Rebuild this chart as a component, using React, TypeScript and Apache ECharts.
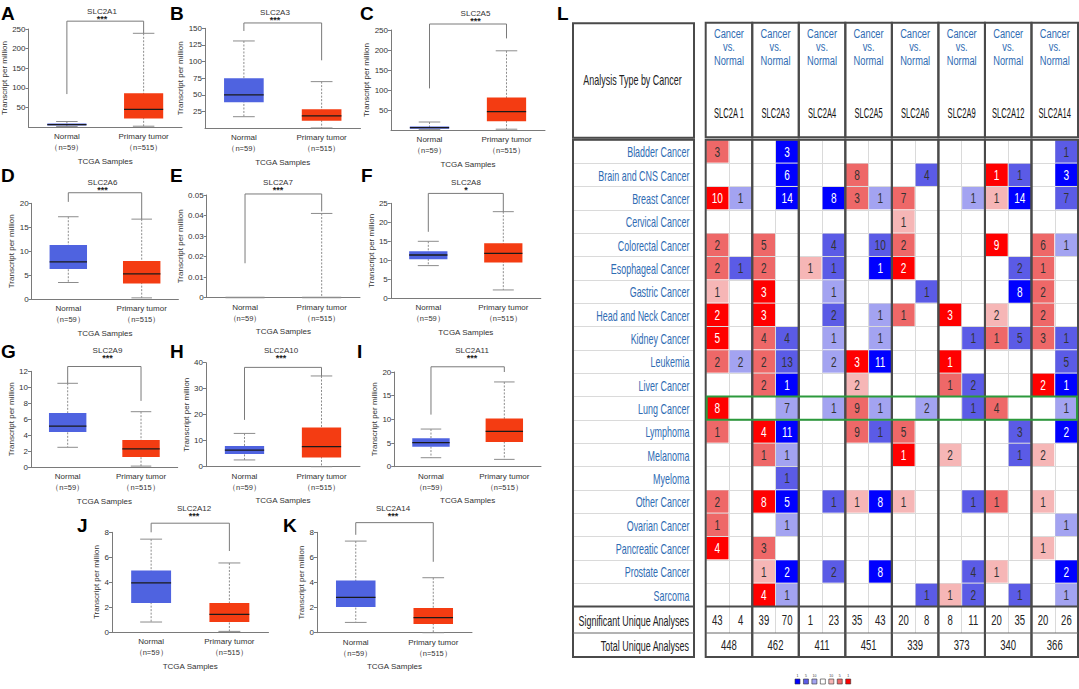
import React, { useEffect, useRef } from 'react';
import * as echarts from 'echarts';

const FONT = "'Liberation Sans', Arial, Helvetica, sans-serif";

// ---------- Boxplot panels (A-K) ----------
const groups = ['Normal', 'Primary tumor'];
const groupN = ['n=59', 'n=515'];
const panelLetters = ['A', 'B', 'C', 'D', 'E', 'F', 'G', 'H', 'I', 'J', 'K'];
const panelGenes = ['SLC2A1', 'SLC2A3', 'SLC2A5', 'SLC2A6', 'SLC2A7', 'SLC2A8', 'SLC2A9', 'SLC2A10', 'SLC2A11', 'SLC2A12', 'SLC2A14'];
const panelSig = ['***', '***', '***', '***', '***', '*', '***', '***', '***', '***', '***'];
// [min, Q1, median, Q3, max]
const normalStats = [
  [1, 4, 6, 9, 14],
  [17.4, 39, 50, 75, 131],
  [1, 3, 6, 9, 20],
  [3.5, 6.3, 7.8, 11.3, 17.2],
  [0, 0, 0, 0, 0],
  [8.6, 10.3, 11.4, 12.4, 15.0],
  [2.5, 4.4, 5.15, 6.8, 10.5],
  [2.6, 4.9, 6.4, 8.0, 12.8],
  [1.9, 4.2, 5.1, 6.0, 7.95],
  [0.8, 2.33, 3.94, 4.93, 7.45],
  [0.82, 2.05, 2.82, 4.15, 7.3],
];
const tumorStats = [
  [2, 22, 45, 86, 239],
  [0.5, 11.4, 18.5, 28.5, 70],
  [2, 22, 46, 81, 198],
  [0.3, 3.3, 5.3, 8.0, 16.7],
  [0, 0, 0, 0, 0.041],
  [2.2, 9.4, 11.8, 14.5, 22.8],
  [0.15, 1.3, 2.3, 3.4, 6.95],
  [0, 3.5, 7.7, 15.1, 34.9],
  [1.55, 5.2, 7.45, 10.2, 17.9],
  [0.05, 0.8, 1.42, 2.33, 5.54],
  [0, 0.69, 1.2, 1.96, 4.38],
];
// significance bracket: [left arm end, top, right arm end]
const brackets = [
  [84, 270, 239],
  [146, 158, 102],
  [104, 265, 229],
  [20.3, 22.2, 16.7],
  [0.0167, 0.0505, 0.042],
  [17.5, 27.6, 22.8],
  [10.5, 12.6, 8.3],
  [18, 38.2, 34.9],
  [11, 21.1, 20],
  [8.0, 8.73, 6.5],
  [7.8, 8.77, 5.65],
];
const yMax = [250, 150, 250, 20, 0.05, 25, 12, 40, 20, 8, 8];
const yStep = [50, 25, 50, 5, 0.01, 5, 2, 10, 5, 2, 2];
const showZero = [false, false, false, true, true, true, true, true, true, true, true];

// ---------- Table (L) ----------
const tableGenes = ['SLC2A 1', 'SLC2A3', 'SLC2A4', 'SLC2A5', 'SLC2A6', 'SLC2A9', 'SLC2A12', 'SLC2A14'];
const subCols = tableGenes.flatMap((g) => [g + ' up', g + ' down']);
const cancers = ['Bladder Cancer', 'Brain and CNS Cancer', 'Breast Cancer', 'Cervical Cancer', 'Colorectal Cancer', 'Esophageal Cancer', 'Gastric Cancer', 'Head and Neck Cancer', 'Kidney Cancer', 'Leukemia', 'Liver Cancer', 'Lung Cancer', 'Lymphoma', 'Melanoma', 'Myeloma', 'Other Cancer', 'Ovarian Cancer', 'Pancreatic Cancer', 'Prostate Cancer', 'Sarcoma'];
const headerText = 'Cancer\nvs.\nNormal';
const leftHeader = 'Analysis Type by Cancer';
const summaryLabels = ['Significant Unique Analyses', 'Total Unique Analyses'];
// [cancerIdx, geneIdx, count, rank(1/5/10 %)]
const overCells = [
  [0, 0, 3, 5],
  [1, 3, 8, 5], [1, 6, 1, 1],
  [2, 0, 10, 1], [2, 3, 3, 5], [2, 4, 7, 5], [2, 6, 1, 10],
  [3, 4, 1, 10],
  [4, 0, 2, 5], [4, 1, 5, 5], [4, 4, 2, 5], [4, 6, 9, 1], [4, 7, 6, 5],
  [5, 0, 2, 5], [5, 1, 2, 5], [5, 2, 1, 10], [5, 4, 2, 1], [5, 7, 1, 5],
  [6, 0, 1, 10], [6, 1, 3, 1], [6, 7, 2, 5],
  [7, 0, 2, 1], [7, 1, 3, 1], [7, 4, 1, 5], [7, 5, 3, 1], [7, 6, 2, 10], [7, 7, 2, 5],
  [8, 0, 5, 1], [8, 1, 4, 5], [8, 6, 1, 5], [8, 7, 3, 5],
  [9, 0, 2, 5], [9, 1, 2, 5], [9, 3, 3, 1], [9, 5, 1, 1],
  [10, 1, 2, 5], [10, 3, 2, 10], [10, 5, 1, 5], [10, 7, 2, 1],
  [11, 0, 8, 1], [11, 3, 9, 5], [11, 6, 4, 5],
  [12, 0, 1, 5], [12, 1, 4, 1], [12, 3, 9, 5], [12, 4, 5, 5],
  [13, 1, 1, 5], [13, 4, 1, 1], [13, 5, 2, 10], [13, 7, 2, 10],
  [15, 0, 2, 5], [15, 1, 8, 1], [15, 3, 1, 10], [15, 4, 1, 10], [15, 6, 1, 5], [15, 7, 1, 10],
  [16, 0, 1, 5],
  [17, 0, 4, 1], [17, 1, 3, 5], [17, 7, 1, 10],
  [18, 1, 1, 10], [18, 6, 1, 10],
  [19, 1, 4, 1], [19, 5, 1, 10],
];
const underCells = [
  [0, 1, 3, 1], [0, 7, 1, 5],
  [1, 1, 6, 1], [1, 4, 4, 5], [1, 6, 1, 5], [1, 7, 3, 1],
  [2, 0, 1, 10], [2, 1, 14, 1], [2, 2, 8, 1], [2, 3, 1, 10], [2, 5, 1, 10], [2, 6, 14, 1], [2, 7, 7, 5],
  [4, 2, 4, 5], [4, 3, 10, 5], [4, 7, 1, 10],
  [5, 0, 1, 5], [5, 2, 1, 5], [5, 3, 1, 1], [5, 6, 2, 5],
  [6, 2, 1, 10], [6, 4, 1, 5], [6, 6, 8, 1],
  [7, 2, 2, 5], [7, 3, 1, 10],
  [8, 1, 4, 5], [8, 2, 1, 10], [8, 3, 1, 10], [8, 5, 1, 5], [8, 6, 5, 5], [8, 7, 1, 5],
  [9, 0, 2, 10], [9, 1, 13, 5], [9, 2, 2, 10], [9, 3, 11, 1], [9, 7, 5, 5],
  [10, 1, 1, 1], [10, 5, 2, 5], [10, 7, 1, 1],
  [11, 1, 7, 10], [11, 2, 1, 10], [11, 3, 1, 10], [11, 4, 2, 10], [11, 5, 1, 5], [11, 7, 1, 10],
  [12, 1, 11, 1], [12, 3, 1, 5], [12, 6, 3, 5], [12, 7, 2, 1],
  [13, 1, 1, 10], [13, 6, 1, 5],
  [14, 1, 1, 5],
  [15, 1, 5, 1], [15, 2, 1, 5], [15, 3, 8, 1], [15, 5, 1, 5],
  [16, 1, 1, 10], [16, 7, 1, 10],
  [18, 1, 2, 1], [18, 2, 2, 5], [18, 3, 8, 1], [18, 5, 4, 5], [18, 7, 2, 1],
  [19, 1, 1, 10], [19, 4, 1, 5], [19, 5, 2, 5], [19, 6, 1, 5], [19, 7, 1, 10],
];
const significantCounts = [[43, 4], [39, 70], [1, 23], [35, 43], [20, 8], [8, 11], [20, 35], [20, 26]];
const totalCounts = [448, 462, 411, 451, 339, 373, 340, 366];
const highlightCancer = 'Lung Cancer';
const legendRanks = ['1', '5', '10', '', '10', '5', '1'];

// ---------- styles & layout ----------
const NORMAL_COLOR = '#4f63e0';
const TUMOR_COLOR = '#f43c12';
const OVER_COLORS: Record<number, string> = { 1: '#ff0000', 5: '#ee6868', 10: '#f6b6b6' };
const UNDER_COLORS: Record<number, string> = { 1: '#0000ff', 5: '#5b5be6', 10: '#a3a3f1' };
const LABEL_BLUE = '#2f6cb3';
const NARROW_SCALE = 0.64;
const TABLE_FS = 14;

// [left, top(y max), right, bottom(axis)]
const panelBoxes = [
  [28.5, 29, 182, 127],
  [205, 28.3, 360.5, 128.3],
  [391, 30, 545, 130],
  [31.6, 203.3, 178.4, 299.3],
  [206.7, 195, 360, 297.5],
  [390.8, 203.3, 540.8, 298.3],
  [31, 371.3, 177.7, 467.3],
  [206, 362.7, 360, 466.7],
  [394.3, 372, 541, 466.7],
  [112, 532.3, 268.5, 632],
  [317, 532.3, 472, 632.7],
];
const letterPos = [[1, 4], [170, 4], [360, 4], [1, 166], [170, 166], [361, 166], [1, 342], [170, 342], [357, 342], [77, 516], [283, 516]];
const titlePos = [[102, 11], [275, 12.7], [475.5, 13.7], [102.5, 182.5], [278, 182.5], [466, 182], [107.5, 350], [281, 350], [472, 350.7], [194, 508.3], [393, 508.3]];
const yNameGap = [14, 11, 11, 14, 15, 10, 12, 12, 13, 10, 10];

const T = {
  left: 705.7, colW: 46.54, headTop: 22.7, headBot: 137.3, bodyTop: 139.8, rowH: 23.335,
  sumTop: 606.5, sumMid: 633, bottom: 657, boxL: 573, boxR: 694,
};

function boxRender(params: any, api: any) {
  const xi = api.value(0);
  const pts = [1, 2, 3, 4, 5].map((d) => api.coord([xi, api.value(d)]));
  const band = api.size([1, 0])[0];
  const cx = pts[0][0];
  const bw = band * 0.51;
  const cw = band * 0.28;
  const color = xi === 0 ? NORMAL_COLOR : TUMOR_COLOR;
  const yMin = pts[0][1], yQ1 = pts[1][1], yMed = pts[2][1], yQ3 = pts[3][1], yMx = pts[4][1];
  return {
    type: 'group',
    children: [
      { type: 'line', shape: { x1: cx, y1: yMx, x2: cx, y2: yMin }, style: { stroke: '#8c8c8c', lineWidth: 1, lineDash: [2, 1.5] } },
      { type: 'line', shape: { x1: cx - cw / 2, y1: yMx, x2: cx + cw / 2, y2: yMx }, style: { stroke: '#8c8c8c', lineWidth: 1 } },
      { type: 'line', shape: { x1: cx - cw / 2, y1: yMin, x2: cx + cw / 2, y2: yMin }, style: { stroke: '#8c8c8c', lineWidth: 1 } },
      { type: 'rect', shape: { x: cx - bw / 2, y: yQ3, width: bw, height: Math.max(yQ1 - yQ3, 0) }, style: { fill: color } },
      { type: 'line', shape: { x1: cx - bw / 2, y1: yMed, x2: cx + bw / 2, y2: yMed }, style: { stroke: yQ1 - yQ3 > 0.5 ? '#1a1a1a' : '#8c8c8c', lineWidth: 1.3 } },
    ],
  };
}

function cellRender(params: any, api: any) {
  const x = api.value(0), y = api.value(1);
  const cnt = api.value(2), rank = api.value(3), dir = api.value(4);
  const c = api.coord([x, y]);
  const s = api.size([1, 1]);
  const fill = dir > 0 ? OVER_COLORS[rank] : UNDER_COLORS[rank];
  return {
    type: 'group',
    children: [
      { type: 'rect', shape: { x: c[0] - s[0] / 2 + 0.5, y: c[1] - s[1] / 2 + 0.5, width: s[0] - 1, height: s[1] - 1 }, style: { fill } },
      { type: 'text', x: c[0], y: c[1] + 0.5, scaleX: 0.72, style: { text: String(cnt), align: 'center', verticalAlign: 'middle', fill: rank === 1 ? '#ffffff' : '#333333', fontSize: TABLE_FS, fontFamily: FONT } },
    ],
  };
}

function textRender(params: any, api: any) {
  const c = api.coord([api.value(0), api.value(1)]);
  return { type: 'text', x: c[0], y: c[1] + 0.5, scaleX: 0.68, style: { text: String(api.value(2)), align: 'center', verticalAlign: 'middle', fill: '#222', fontSize: TABLE_FS, fontFamily: FONT } };
}

function rowLabelRender(params: any, api: any) {
  const c = api.coord([api.value(0), api.value(1)]);
  return { type: 'text', x: c[0], y: c[1] + 0.5, scaleX: NARROW_SCALE, style: { text: cancers[params.dataIndex], align: 'right', verticalAlign: 'middle', fill: LABEL_BLUE, fontSize: TABLE_FS, fontFamily: FONT } };
}

function buildOption() {
  const grid: any[] = [];
  const xAxis: any[] = [];
  const yAxis: any[] = [];
  const series: any[] = [];
  const graphic: any[] = [];

  panelBoxes.forEach((b, i) => {
    grid.push({ left: b[0], top: b[1], width: b[2] - b[0], height: b[3] - b[1], containLabel: false, outerBoundsMode: 'none' });
    xAxis.push({
      gridIndex: i, type: 'category', data: groups, boundaryGap: true,
      axisLine: { lineStyle: { color: '#7a7a7a', width: 1 } }, axisTick: { show: false },
      axisLabel: {
        interval: 0, margin: 4, fontSize: 8, color: '#333', fontFamily: FONT, lineHeight: 11,
        formatter: (v: string, idx: number) => `${v}\n{n|（${groupN[idx]}）}`,
        rich: { n: { fontSize: 7.5, color: '#333', lineHeight: 11 } },
      },
      name: 'TCGA Samples', nameLocation: 'middle', nameGap: 30,
      nameTextStyle: { fontSize: 8, color: '#333', fontFamily: FONT },
    });
    yAxis.push({
      gridIndex: i, type: 'value', min: 0, max: yMax[i], interval: yStep[i],
      axisLine: { show: true, lineStyle: { color: '#7a7a7a', width: 1 } },
      axisTick: { show: true, length: 3, lineStyle: { color: '#7a7a7a' } },
      splitLine: { show: false },
      axisLabel: { fontSize: 8, color: '#333', margin: 3, fontFamily: FONT, showMinLabel: showZero[i] },
      name: 'Transcript per million', nameLocation: 'middle', nameGap: yNameGap[i],
      nameTextStyle: { fontSize: 8, color: '#333', fontFamily: FONT },
    });
    series.push({
      type: 'custom', xAxisIndex: i, yAxisIndex: i, renderItem: boxRender, clip: false, silent: true,
      data: [[0, ...normalStats[i]], [1, ...tumorStats[i]]],
      encode: { x: 0, y: [1, 2, 3, 4, 5] },
    });
    const br = brackets[i];
    series.push({
      type: 'line', xAxisIndex: i, yAxisIndex: i, symbol: 'none', clip: false, silent: true,
      lineStyle: { color: '#7a7a7a', width: 1 },
      data: [[0, br[0]], [0, br[1]], [1, br[1]], [1, br[2]]],
    });
    graphic.push({ type: 'text', z: 100, x: letterPos[i][0], y: letterPos[i][1], style: { text: panelLetters[i], fill: '#000', font: `bold 19px ${FONT}` } });
    graphic.push({ type: 'text', z: 100, x: titlePos[i][0], y: titlePos[i][1], style: { text: panelGenes[i], fill: '#333', font: `8px ${FONT}`, align: 'center', verticalAlign: 'middle' } });
    graphic.push({ type: 'text', z: 100, x: titlePos[i][0], y: titlePos[i][1] + 7.5, style: { text: panelSig[i], fill: '#222', font: `bold 9px ${FONT}`, align: 'center', verticalAlign: 'middle' } });
  });

  // ---- table body grid
  const tbW = T.colW * 8;
  const tbH = T.rowH * cancers.length;
  const gBody = grid.length;
  grid.push({ left: T.left, top: T.bodyTop, width: tbW, height: tbH, outerBoundsMode: 'none' });
  const xSub = xAxis.length;
  xAxis.push({ gridIndex: gBody, type: 'category', data: subCols, axisLine: { show: false }, axisTick: { show: false }, axisLabel: { show: false }, splitLine: { show: true, interval: 0, lineStyle: { color: '#dadada' } } });
  const yBody = yAxis.length;
  yAxis.push({ gridIndex: gBody, type: 'category', data: cancers, inverse: true, axisLine: { show: false }, axisTick: { show: false }, axisLabel: { show: false }, splitLine: { show: true, interval: 0, lineStyle: { color: '#dadada' } } });
  series.push({
    type: 'custom', xAxisIndex: xSub, yAxisIndex: yBody, renderItem: cellRender, silent: true,
    data: [
      ...overCells.map((c) => [c[1] * 2, c[0], c[2], c[3], 1]),
      ...underCells.map((c) => [c[1] * 2 + 1, c[0], c[2], c[3], -1]),
    ],
    encode: { x: 0, y: 1 },
  });

  // ---- row labels grid
  const gLab = grid.length;
  grid.push({ left: T.boxL, top: T.bodyTop, width: T.boxR - T.boxL, height: tbH, outerBoundsMode: 'none' });
  const xLab = xAxis.length;
  xAxis.push({ gridIndex: gLab, type: 'value', min: 0, max: 1, show: false });
  const yLab = yAxis.length;
  yAxis.push({ gridIndex: gLab, type: 'category', data: cancers, inverse: true, axisLine: { show: false }, axisTick: { show: false }, axisLabel: { show: false }, splitLine: { show: true, interval: 0, lineStyle: { color: '#dadada' } } });
  series.push({
    type: 'custom', xAxisIndex: xLab, yAxisIndex: yLab, renderItem: rowLabelRender, silent: true,
    data: cancers.map((_, i) => [0.962, i]),
    encode: { x: 0, y: 1 },
  });

  // ---- significant row
  const gSig = grid.length;
  grid.push({ left: T.left, top: T.sumTop, width: tbW, height: T.sumMid - T.sumTop, outerBoundsMode: 'none' });
  const xSig = xAxis.length;
  xAxis.push({ gridIndex: gSig, type: 'category', data: subCols, axisLine: { show: false }, axisTick: { show: false }, axisLabel: { show: false }, splitLine: { show: true, interval: 0, lineStyle: { color: '#dadada' } } });
  const ySig = yAxis.length;
  yAxis.push({ gridIndex: gSig, type: 'category', data: [summaryLabels[0]], show: false });
  series.push({
    type: 'custom', xAxisIndex: xSig, yAxisIndex: ySig, renderItem: textRender, silent: true,
    data: significantCounts.flatMap((pair, g) => pair.map((v, k) => [g * 2 + k, 0, v])),
    encode: { x: 0, y: 1 },
  });

  // ---- total row
  const gTot = grid.length;
  grid.push({ left: T.left, top: T.sumMid, width: tbW, height: T.bottom - T.sumMid, outerBoundsMode: 'none' });
  const xTot = xAxis.length;
  xAxis.push({ gridIndex: gTot, type: 'category', data: tableGenes, show: false });
  const yTot = yAxis.length;
  yAxis.push({ gridIndex: gTot, type: 'category', data: [summaryLabels[1]], show: false });
  series.push({
    type: 'custom', xAxisIndex: xTot, yAxisIndex: yTot, renderItem: textRender, silent: true,
    data: totalCounts.map((v, g) => [g, 0, v]),
    encode: { x: 0, y: 1 },
  });

  // ---- header texts
  tableGenes.forEach((g, k) => {
    const cx = T.left + (k + 0.5) * T.colW;
    graphic.push({ type: 'text', z: 100, x: cx, y: 46.5, scaleX: 0.69, style: { text: headerText, fill: LABEL_BLUE, fontSize: 13.5, lineHeight: 13.4, fontFamily: FONT, align: 'center', verticalAlign: 'middle' } });
    graphic.push({ type: 'text', z: 100, x: cx, y: 113.5, scaleX: 0.54, style: { text: g, fill: '#111', fontSize: TABLE_FS, fontFamily: FONT, align: 'center', verticalAlign: 'middle' } });
  });
  graphic.push({ type: 'text', z: 100, x: (T.boxL + T.boxR) / 2 - 1, y: 80, scaleX: NARROW_SCALE, style: { text: leftHeader, fill: '#222', fontSize: TABLE_FS, fontFamily: FONT, align: 'center', verticalAlign: 'middle' } });
  graphic.push({ type: 'text', z: 100, x: 689, y: (T.sumTop + T.sumMid) / 2 + 0.5, scaleX: NARROW_SCALE, style: { text: summaryLabels[0], fill: '#222', fontSize: TABLE_FS, fontFamily: FONT, align: 'right', verticalAlign: 'middle' } });
  graphic.push({ type: 'text', z: 100, x: 689, y: (T.sumMid + T.bottom) / 2 + 0.5, scaleX: NARROW_SCALE, style: { text: summaryLabels[1], fill: '#222', fontSize: TABLE_FS, fontFamily: FONT, align: 'right', verticalAlign: 'middle' } });

  // ---- frames
  const stroke = '#4a4a4a';
  const frame = (x: number, y: number, w: number, h: number) => ({ type: 'rect', z: 100, shape: { x, y, width: w, height: h }, style: { fill: 'none', stroke, lineWidth: 2 } });
  const hline = (x1: number, x2: number, y: number, w: number, c: string) => ({ type: 'line', z: 100, shape: { x1, y1: y, x2, y2: y }, style: { stroke: c, lineWidth: w } });
  graphic.push(frame(T.boxL, T.headTop + 0.5, T.boxR - T.boxL, T.headBot - T.headTop));
  graphic.push(frame(T.boxL, T.bodyTop, T.boxR - T.boxL, T.bottom - T.bodyTop));
  graphic.push(hline(T.boxL, T.boxR, T.sumTop, 2, stroke));
  graphic.push(hline(T.boxL, T.boxR, T.sumMid, 1, '#666'));
  for (let g = 0; g < tableGenes.length; g++) {
    const x0 = T.left + g * T.colW;
    graphic.push(frame(x0, T.headTop, T.colW, T.headBot - T.headTop));
    graphic.push(frame(x0, T.bodyTop, T.colW, T.bottom - T.bodyTop));
    graphic.push(hline(x0, x0 + T.colW, T.sumTop, 2, stroke));
    graphic.push(hline(x0, x0 + T.colW, T.sumMid, 1, '#666'));
  }
  // highlight
  const hi = cancers.indexOf(highlightCancer);
  graphic.push({ type: 'rect', z: 101, shape: { x: T.left + 1, y: T.bodyTop + hi * T.rowH, width: tbW - 2, height: T.rowH }, style: { fill: 'none', stroke: '#2c9a3c', lineWidth: 2 } });
  // letter L
  graphic.push({ type: 'text', z: 100, x: 557, y: 4, style: { text: 'L', fill: '#000', font: `bold 19px ${FONT}` } });
  // legend
  const legColors = [UNDER_COLORS[1], UNDER_COLORS[5], UNDER_COLORS[10], '#ffffff', OVER_COLORS[10], OVER_COLORS[5], OVER_COLORS[1]];
  legColors.forEach((c, k) => {
    const x = 795 + k * 8.45;
    graphic.push({ type: 'rect', z: 100, shape: { x, y: 679, width: 5, height: 5 }, style: { fill: c, stroke: '#333', lineWidth: 0.6 } });
    graphic.push({ type: 'text', z: 100, x: x + 2.5, y: 675.5, style: { text: legendRanks[k], fill: '#333', fontSize: 3.5, fontFamily: FONT, align: 'center', verticalAlign: 'middle' } });
  });

  return {
    animation: false,
    backgroundColor: '#ffffff',
    textStyle: { fontFamily: FONT },
    grid, xAxis, yAxis, series,
    graphic: { elements: graphic },
  };
}

export default function App() {
  const ref = useRef<HTMLDivElement>(null);
  useEffect(() => {
    if (!ref.current) return;
    const chart = echarts.init(ref.current, undefined, { renderer: 'svg' });
    chart.setOption(buildOption() as any);
    return () => chart.dispose();
  }, []);
  return <div ref={ref} style={{ position: 'absolute', left: 0, top: 0, width: 1079, height: 689, background: '#fff' }} />;
}
